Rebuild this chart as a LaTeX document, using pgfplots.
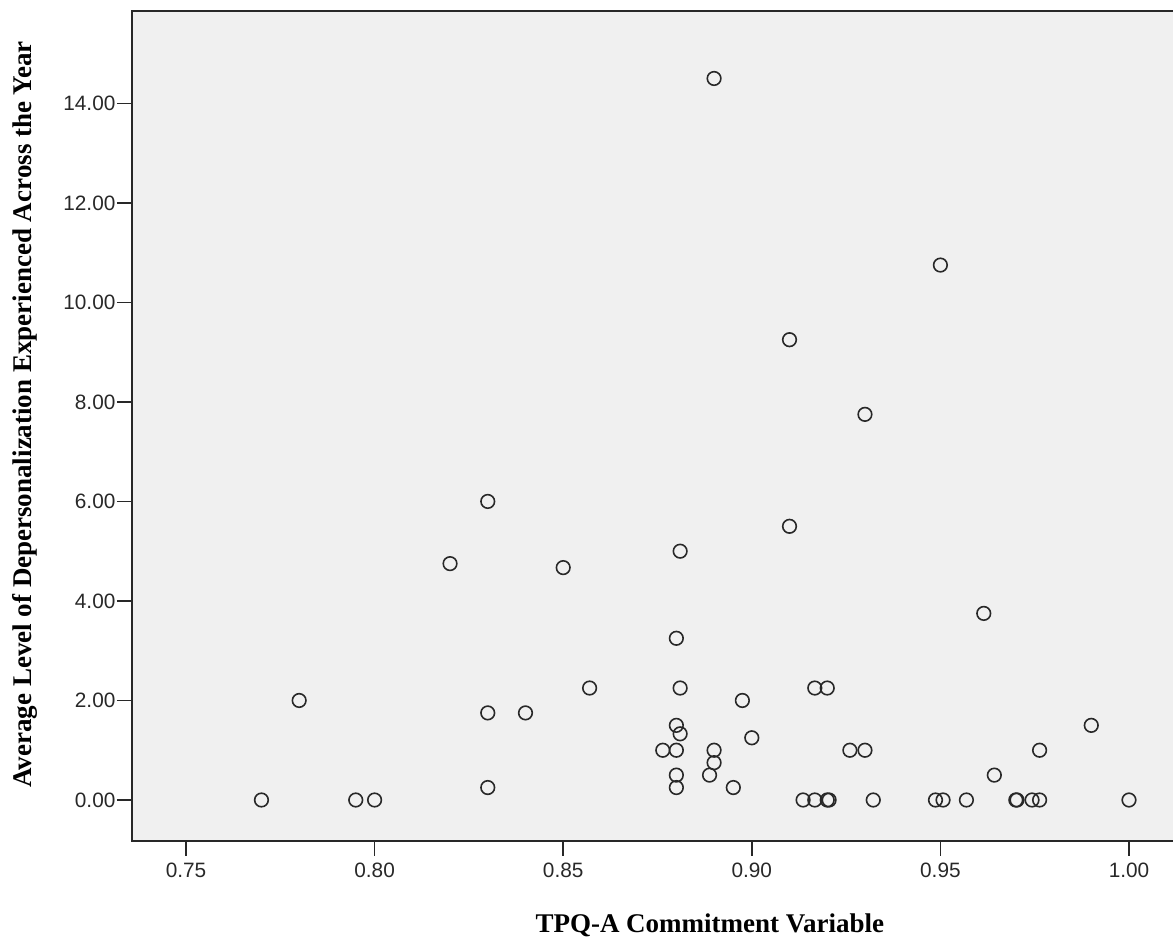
\documentclass[border=0pt]{standalone}
\usepackage{fontspec}
\setmainfont{Liberation Serif}
\newfontfamily\arial{Liberation Sans}
\usepackage{pgfplots}
\pgfplotsset{compat=1.18}
\definecolor{bg}{RGB}{240,240,240}
\definecolor{ink}{RGB}{40,40,40}

\begin{document}
\begin{tikzpicture}
\begin{axis}[
  scale only axis,
  width=520.5pt, height=415pt,
  xmin=0.73568, xmax=1.01167,
  ymin=-0.824, ymax=15.856,
  axis background/.style={fill=bg},
  axis line style={draw=none},
  clip=false,
  xtick={0.75,0.80,0.85,0.90,0.95,1.00},
  ytick={0,2,4,6,8,10,12,14},
  xtick pos=lower, ytick pos=lower,
  tick align=outside,
  major tick length=7.5pt,
  tick style={ink, line width=0.8pt},
  /pgf/number format/assume math mode=true,
  /pgf/number format/fixed,
  /pgf/number format/fixed zerofill,
  /pgf/number format/precision=2,
  tick label style={font=\arial\fontsize{10.4}{12}\selectfont, text=ink},
  yticklabel style={inner xsep=0.6pt},
  xlabel={TPQ-A Commitment Variable},
  ylabel={Average Level of Depersonalization Experienced Across the Year},
  label style={font=\bfseries\fontsize{13.5}{16}\selectfont},
  xlabel style={at={(axis description cs:0.555,-0.101)}, anchor=center},
  ylabel style={at={(axis description cs:-0.1028,0.514)}, anchor=center, rotate=0},
]
\addplot[only marks, mark=o, mark size=3.4pt, mark options={line width=0.8pt, draw=ink}] coordinates {
  (0.89,14.5)(0.95,10.75)(0.91,9.25)(0.93,7.75)(0.83,6.0)(0.91,5.5)
  (0.881,5.0)(0.82,4.75)(0.85,4.67)(0.9615,3.75)(0.88,3.25)
  (0.78,2.0)(0.857,2.25)(0.881,2.25)(0.8975,2.0)(0.9167,2.25)(0.92,2.25)
  (0.83,1.75)(0.84,1.75)(0.88,1.5)(0.99,1.5)(0.881,1.33)(0.90,1.25)
  (0.8764,1.0)(0.88,1.0)(0.89,1.0)(0.926,1.0)(0.93,1.0)(0.9763,1.0)
  (0.89,0.75)(0.8888,0.5)(0.88,0.5)(0.9643,0.5)
  (0.83,0.25)(0.88,0.25)(0.8951,0.25)
  (0.77,0)(0.795,0)(0.80,0)(0.9136,0)(0.9167,0)(0.92,0)(0.9205,0)
  (0.9322,0)(0.9487,0)(0.9507,0)(0.9569,0)(0.97,0)(0.9703,0)
  (0.9743,0)(0.9763,0)(1.00,0)
};
\draw[ink, line width=0.9pt] (rel axis cs:1,1) -- (rel axis cs:0,1) -- (rel axis cs:0,0) -- (rel axis cs:1,0);
\coordinate (sw) at (rel axis cs:0,0);
\coordinate (ne) at (rel axis cs:1,1);
\end{axis}
\pgfresetboundingbox
\path[use as bounding box] ([shift={(-66pt,-50pt)}]sw) rectangle ([shift={(0pt,5.5pt)}]ne);
\end{tikzpicture}
\end{document}
